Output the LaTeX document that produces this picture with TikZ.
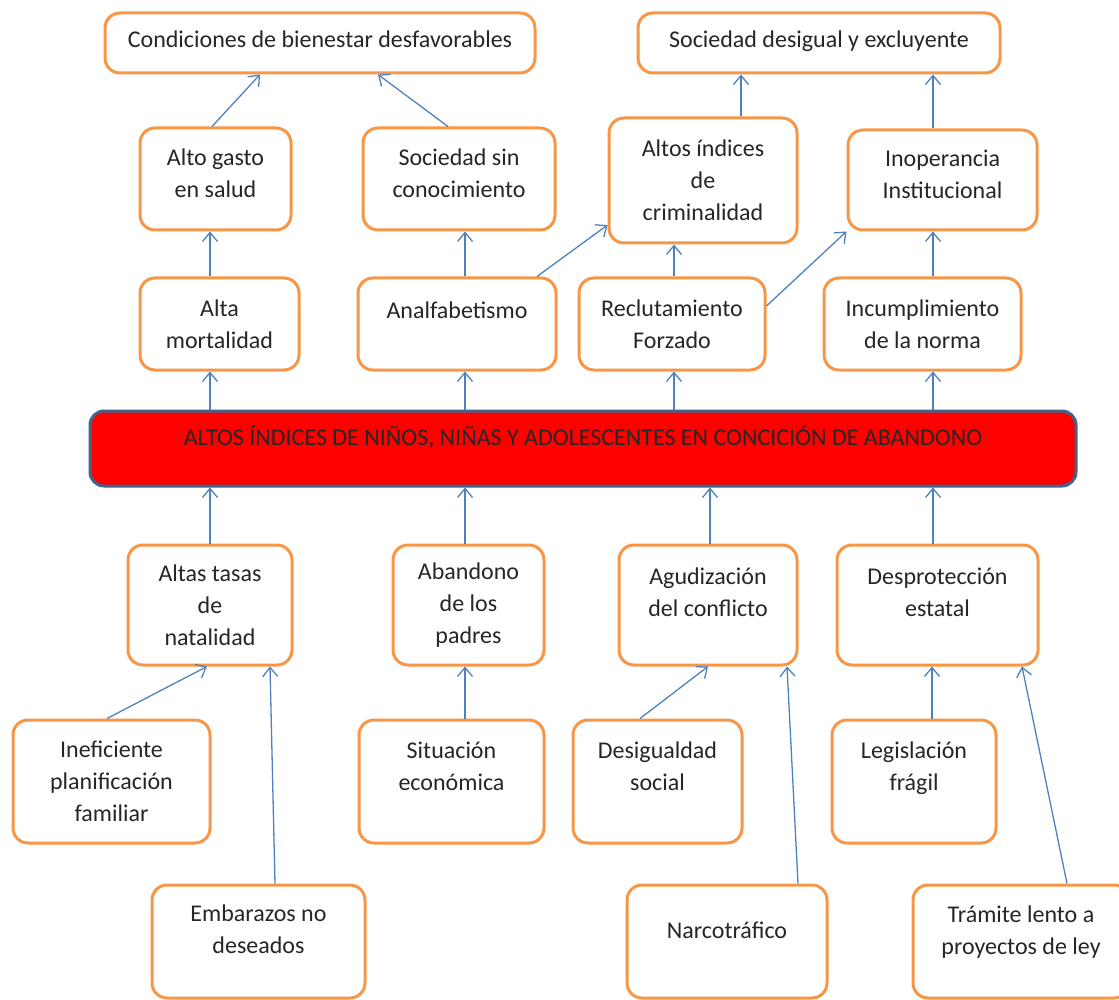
\documentclass[tikz,border=0pt]{standalone}
\usepackage{fontspec}
\setmainfont{Carlito}
\usetikzlibrary{arrows.meta}
\definecolor{boxline}{HTML}{F79646}
\definecolor{linkblue}{HTML}{4F81BD}
\definecolor{coreline}{HTML}{41638C}
\newcommand{\lift}[2]{\raisebox{#1}[\height][\depth]{\begin{tabular}{@{}c@{}}#2\end{tabular}}}
\begin{document}
\begin{tikzpicture}
            [x=1pt, y=-1pt,
             every node/.style={inner sep=0pt, align=center, text=black!85, font=\fontsize{24}{32}\selectfont},
             box/.style={rectangle, rounded corners=15pt, line width=3pt, draw=boxline, fill=white},
             core/.style={rectangle, rounded corners=14pt, line width=3pt, draw=coreline, fill=red},
             link/.style={line width=1.3pt, draw=linkblue, -{Straight Barb[length=9pt, width=15pt, line width=1.3pt]}}]
                \useasboundingbox (0,0) rectangle (1119,1000);
                \node (c1) [box, minimum width=430pt, minimum height=60pt] at (320, 43) {\lift{2pt}{Condiciones de bienestar desfavorables}};
                \node (c2) [box, minimum width=362pt, minimum height=60pt] at (819, 43) {\lift{2pt}{Sociedad desigual y excluyente}};
                \node (a1) [box, minimum width=151pt, minimum height=102pt] at (215.5, 179) {\lift{4pt}{Alto gasto\\en salud}};
                \node (a2) [box, minimum width=192pt, minimum height=102pt] at (459, 179) {\lift{4pt}{Sociedad sin\\conocimiento}};
                \node (a3) [box, minimum width=188pt, minimum height=125pt] at (703, 180.5) {Altos índices\\de\\criminalidad};
                \node (a4) [box, minimum width=189pt, minimum height=100pt] at (942.5, 180) {\lift{4pt}{Inoperancia\\Institucional}};
                \node (b1) [box, minimum width=159pt, minimum height=92pt] at (219.5, 324) {Alta\\mortalidad};
                \node (b2) [box, minimum width=198pt, minimum height=92pt] at (457, 324) {\lift{12pt}{Analfabetismo}};
                \node (b3) [box, minimum width=186pt, minimum height=92pt] at (672, 324) {Reclutamiento\\Forzado};
                \node (b4) [box, minimum width=197pt, minimum height=92pt] at (922.5, 324) {Incumplimiento\\de la norma};
                \node (core) [core, minimum width=986pt, minimum height=75pt] at (583, 448.5) {\lift{9pt}{ALTOS ÍNDICES DE NIÑOS, NIÑAS Y ADOLESCENTES EN CONCICIÓN DE ABANDONO}};
                \node (d1) [box, minimum width=164pt, minimum height=120pt] at (210, 605) {Altas tasas\\de\\natalidad};
                \node (d2) [box, minimum width=151pt, minimum height=120pt] at (468.5, 605) {Abandono\\de los\\padres};
                \node (d3) [box, minimum width=178pt, minimum height=120pt] at (708, 605) {\lift{11pt}{Agudización\\del conflicto}};
                \node (d4) [box, minimum width=201pt, minimum height=120pt] at (937.5, 605) {\lift{11pt}{Desprotección\\estatal}};
                \node (e1) [box, minimum width=197pt, minimum height=123pt] at (111.5, 781.5) {Ineficiente\\planificación\\familiar};
                \node (e2) [box, minimum width=185pt, minimum height=123pt] at (451.5, 781.5) {\lift{13pt}{Situación\\económica}};
                \node (e3) [box, minimum width=169pt, minimum height=123pt] at (657.5, 781.5) {\lift{13pt}{Desigualdad\\social}};
                \node (e4) [box, minimum width=164pt, minimum height=123pt] at (914, 781.5) {\lift{13pt}{Legislación\\frágil}};
                \node (f1) [box, minimum width=213pt, minimum height=113pt] at (258.5, 941.5) {\lift{10pt}{Embarazos no\\deseados}};
                \node (f2) [box, minimum width=200pt, minimum height=113pt] at (727, 941.5) {\lift{9pt}{Narcotráfico}};
                \node (f3) [box, minimum width=216pt, minimum height=113pt] at (1021, 941.5) {\lift{9pt}{Trámite lento a\\proyectos de ley}};
                \draw [link] (a1.north -| 212,0) to (c1.south -| 260,0);
                \draw [link] (a2.north -| 448,0) to (c1.south -| 378,0);
                \draw [link] (a3.north -| 741,0) to (c2.south -| 741,0);
                \draw [link] (a4.north -| 933,0) to (c2.south -| 933,0);
                \draw [link] (b1.north -| 210,0) to (a1.south -| 210,0);
                \draw [link] (b2.north -| 465,0) to (a2.south -| 465,0);
                \draw [link] (b2.north -| 537,0) to (a3.west |- 0,225);
                \draw [link] (b3.north -| 674,0) to (a3.south -| 674,0);
                \draw [link] (b3.east |- 0,306) to (a4.south west);
                \draw [link] (b4.north -| 933,0) to (a4.south -| 933,0);
                \foreach \x/\y in {210/b1, 465/b2, 674/b3, 933/b4}
                    \draw [link] (core.north -| \x,0) to (\y.south -| \x,0);
                \foreach \x/\y in {210/d1, 465/d2, 710/d3, 933/d4}
                    \draw [link] (\y.north -| \x,0) to (core.south -| \x,0);
                \draw [link] (e1.north -| 107,0) to (d1.south -| 207,0);
                \draw [link] (f1.north -| 275,0) to (d1.south -| 270,0);
                \draw [link] (e2.north -| 465,0) to (d2.south -| 465,0);
                \draw [link] (e3.north -| 640,0) to (d3.south -| 708,0);
                \draw [link] (f2.north -| 798,0) to (d3.south -| 787,0);
                \draw [link] (e4.north -| 932,0) to (d4.south -| 932,0);
                \draw [link] (f3.north -| 1067,0) to (d4.south -| 1022,0);
            \end{tikzpicture}
\end{document}
